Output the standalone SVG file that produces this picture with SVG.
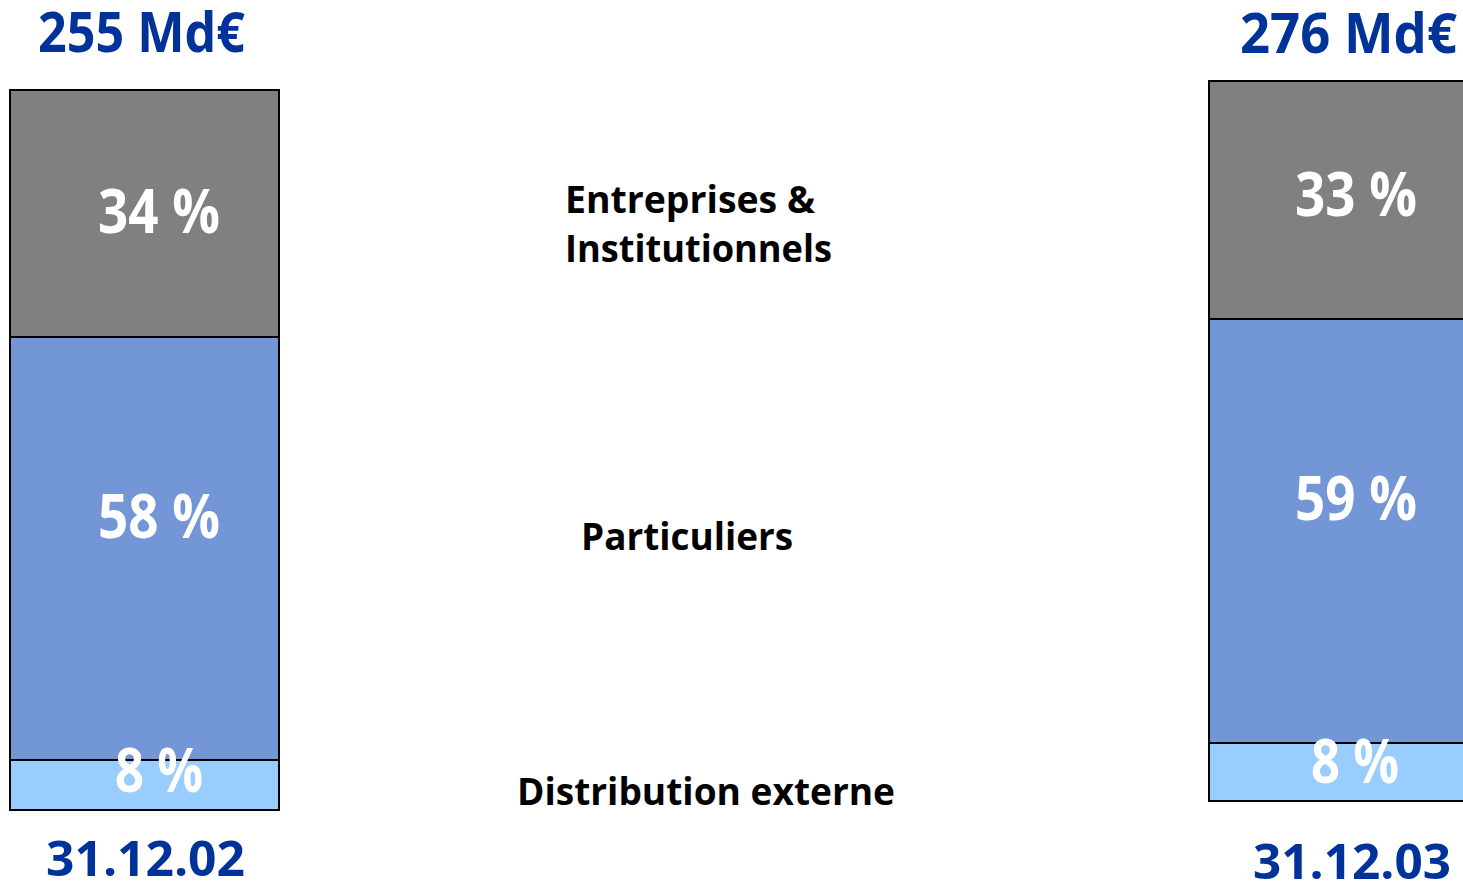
<svg xmlns="http://www.w3.org/2000/svg" width="1463" height="884" viewBox="0 0 1463 884">
<style>
text{font-family:"Open Sans","DejaVu Sans",sans-serif;font-weight:bold}
.t{fill:#003399;font-size:56px}
.d{fill:#003399;font-size:48px}
.p{fill:#ffffff;font-size:61px;font-weight:bold}
.l{fill:#000000;font-size:38px}
.b{stroke:#000;stroke-width:2}
.g{fill:#808080}
.m{fill:#7396D6}
.s{fill:#99CCFF}
</style>
<rect width="1463" height="884" fill="#ffffff"/>
<g id="bar2002">
<rect class="b g" x="10" y="90" width="269" height="247"/>
<rect class="b m" x="10" y="337" width="269" height="423"/>
<rect class="b s" x="10" y="760" width="269" height="50"/>
<text class="t" x="38" y="52" textLength="207" lengthAdjust="spacingAndGlyphs">255 Md€</text>
<text class="p" x="98" y="233" textLength="122" lengthAdjust="spacingAndGlyphs">34 %</text>
<text class="p" x="98" y="538" textLength="122" lengthAdjust="spacingAndGlyphs">58 %</text>
<text class="p" x="115" y="792" textLength="88" lengthAdjust="spacingAndGlyphs">8 %</text>
<text class="d" x="46" y="876" textLength="199" lengthAdjust="spacingAndGlyphs">31.12.02</text>
</g>
<g id="bar2003">
<rect class="b g" x="1209" y="81" width="260" height="238"/>
<rect class="b m" x="1209" y="319" width="260" height="424"/>
<rect class="b s" x="1209" y="743" width="260" height="58"/>
<text class="t" x="1240" y="53" textLength="217" lengthAdjust="spacingAndGlyphs">276 Md€</text>
<text class="p" x="1295" y="216" textLength="122" lengthAdjust="spacingAndGlyphs">33 %</text>
<text class="p" x="1295" y="520" textLength="122" lengthAdjust="spacingAndGlyphs">59 %</text>
<text class="p" x="1311" y="783" textLength="88" lengthAdjust="spacingAndGlyphs">8 %</text>
<text class="d" x="1253" y="879" textLength="198" lengthAdjust="spacingAndGlyphs">31.12.03</text>
</g>
<g id="legend">
<text class="l" x="565" y="213" textLength="250" lengthAdjust="spacingAndGlyphs">Entreprises &amp;</text>
<text class="l" x="565" y="262" textLength="267" lengthAdjust="spacingAndGlyphs">Institutionnels</text>
<text class="l" x="581" y="550" textLength="212" lengthAdjust="spacingAndGlyphs">Particuliers</text>
<text class="l" x="517" y="805" textLength="378" lengthAdjust="spacingAndGlyphs">Distribution externe</text>
</g>
</svg>
